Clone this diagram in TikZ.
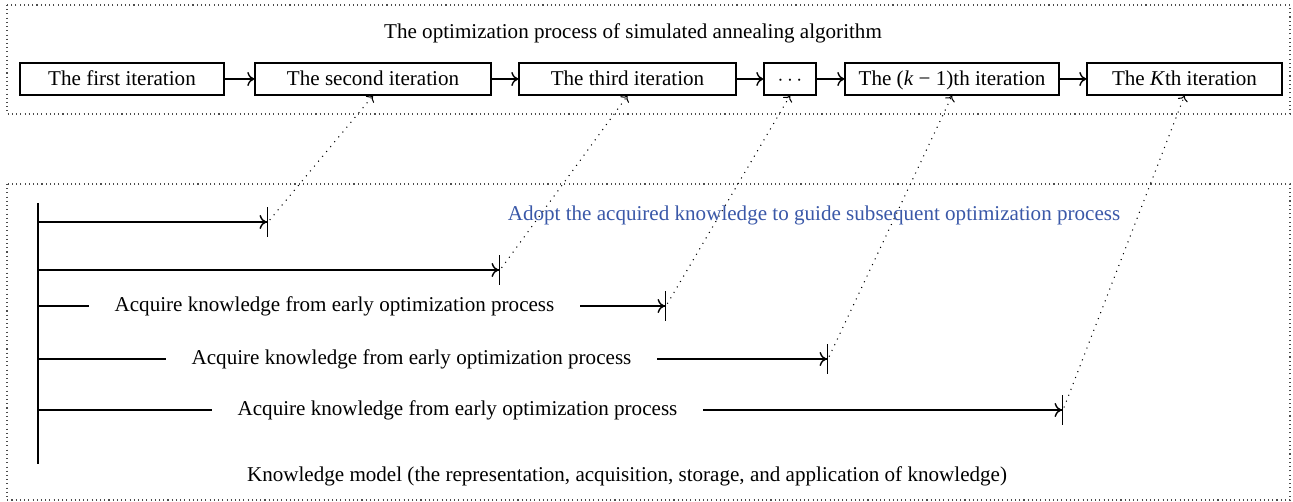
\documentclass[tikz,border=0pt]{standalone}
\usepackage{fontspec}
\setmainfont{Liberation Serif}
\usetikzlibrary{arrows.meta}
\definecolor{adoptblue}{RGB}{58,88,168}

\begin{document}
\begin{tikzpicture}[x=0.02cm,y=-0.02cm,font=\fontsize{12}{14}\selectfont,
        iter/.style={draw,line width=0.8pt,minimum height=0.64cm,inner sep=0pt,text height=2.2ex,text depth=0.5ex},
        dotbox/.style={black!70,line width=0.6pt,dash pattern=on 0.6pt off 1.8pt},
        link/.style={line width=0.6pt,dash pattern=on 0.6pt off 3pt,-{To[length=3pt,width=6pt]},shorten <=1.5pt},
        flow/.style={line width=0.8pt,-{To[length=4pt,width=8pt]}},
        gain/.style={line width=0.8pt,-{To[length=4pt,width=8pt,sep=0pt]Bar[width=17pt]}},
        acq/.style={minimum width=9.82cm,inner sep=0pt}]
    \useasboundingbox (0,0) rectangle (1293,502);
    \draw[dotbox] (7,5) rectangle (1290,114);
    \draw[dotbox] (7,184) rectangle (1290,500);

    \node (title) at (633,33) {The optimization process of simulated annealing algorithm};
    \node[iter,minimum width=4.08cm] (it1) at (122,79) {The first iteration};
    \node[iter,minimum width=4.72cm] (it2) at (373,79) {The second iteration};
    \node[iter,minimum width=4.34cm] (it3) at (627.5,79) {The third iteration};
    \node[iter,minimum width=1.04cm] (it4) at (790,79) {$\cdots$};
    \node[iter,minimum width=4.28cm] (it5) at (952,79) {The (\textit{k} − 1)th iteration};
    \node[iter,minimum width=3.9cm] (it6) at (1184.5,79) {The \textit{K}th iteration};
    \draw[flow] (it1) -- (it2);
    \draw[flow] (it2) -- (it3);
    \draw[flow] (it3) -- (it4);
    \draw[flow] (it4) -- (it5);
    \draw[flow] (it5) -- (it6);

    \coordinate (top) at (38,203);
    \coordinate (bot) at (38,464);
    \draw[line width=0.8pt] (top) -- (bot);
    \coordinate (e1) at (268,222);
    \coordinate (e2) at (500,270);
    \coordinate (e3) at (666,306);
    \coordinate (e4) at (828,359);
    \coordinate (e5) at (1063,410);
    \draw[gain] (top |- e1) -- (e1);
    \draw[gain] (top |- e2) -- (e2);
    \node[acq] (a3) at (334.5,306) {Acquire knowledge from early optimization process};
    \node[acq] (a4) at (411.5,359) {Acquire knowledge from early optimization process};
    \node[acq] (a5) at (457.5,410) {Acquire knowledge from early optimization process};
    \draw[line width=0.8pt] (top |- a3) -- (a3.west);
    \draw[line width=0.8pt] (top |- a4) -- (a4.west);
    \draw[line width=0.8pt] (top |- a5) -- (a5.west);
    \draw[gain] (a3.east) -- (e3);
    \draw[gain] (a4.east) -- (e4);
    \draw[gain] (a5.east) -- (e5);

    \node[adoptblue] (adopt) at (814,215) {Adopt the acquired knowledge to guide subsequent optimization process};
    \node (model) at (627,476) {Knowledge model (the representation, acquisition, storage, and application of knowledge)};

    \draw[link] (e1) -- (it2.south);
    \draw[link] (e2) -- (it3.south);
    \draw[link] (e3) -- (it4.south);
    \draw[link] (e4) -- (it5.south);
    \draw[link] (e5) -- (it6.south);
\end{tikzpicture}
\end{document}
